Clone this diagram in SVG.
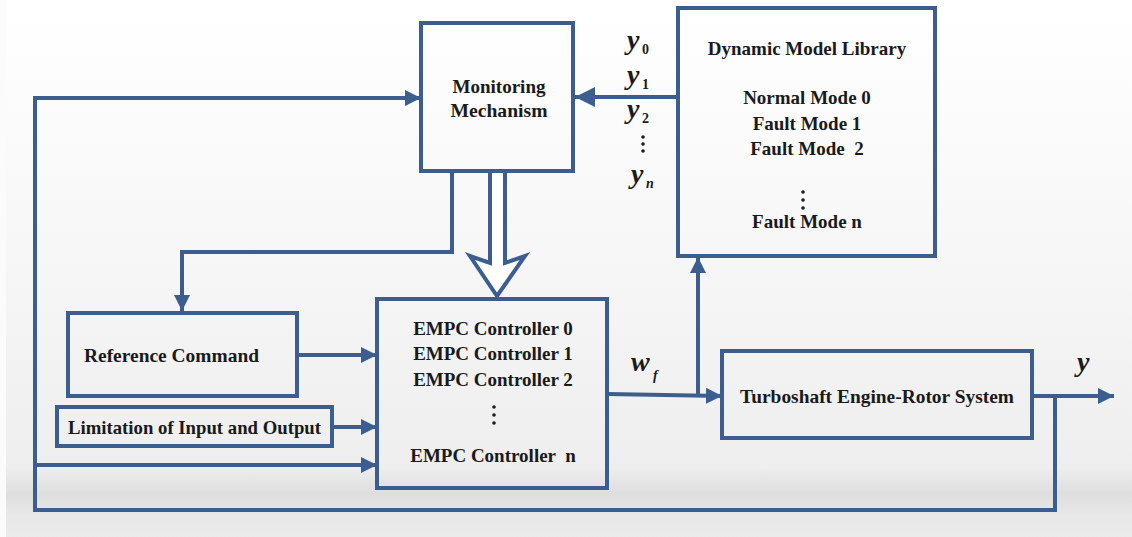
<svg xmlns="http://www.w3.org/2000/svg" width="1132" height="537" viewBox="0 0 1132 537">
<defs>
<linearGradient id="bg" x1="0" y1="0" x2="0" y2="1">
<stop offset="0" stop-color="#ffffff"/>
<stop offset="0.5" stop-color="#f6f6f6"/>
<stop offset="0.87" stop-color="#eeeeee"/>
<stop offset="0.92" stop-color="#dedede"/>
<stop offset="0.96" stop-color="#e8e8e8"/>
<stop offset="1" stop-color="#ebebeb"/>
</linearGradient>
<marker id="ah" markerUnits="userSpaceOnUse" markerWidth="16" markerHeight="16" refX="16" refY="8" orient="auto">
<path d="M0,0 L16,8 L0,16 Z" fill="#3b5e8e"/>
</marker>
<marker id="ahL" markerUnits="userSpaceOnUse" markerWidth="20" markerHeight="20" refX="20" refY="10" orient="auto">
<path d="M0,0 L20,10 L0,20 Z" fill="#3b5e8e"/>
</marker>
</defs>
<style>
.box{fill:none;stroke:#3b5e8e;stroke-width:4}
.ln{fill:none;stroke:#3b5e8e;stroke-width:4}
.t{font-family:"Liberation Serif","Times New Roman",serif;font-weight:bold;font-size:19px;fill:#1a1a1a}
.m{text-anchor:middle}
.v{font-family:"Liberation Serif","Times New Roman",serif;font-weight:bold;font-style:italic;font-size:28px;fill:#1a1a1a}
.s{font-family:"Liberation Serif","Times New Roman",serif;font-weight:bold;font-size:14px;fill:#1a1a1a}
</style>
<rect x="0" y="0" width="1132" height="537" fill="url(#bg)"/>
<rect x="0" y="0" width="6" height="537" fill="#fbfbfb"/>

<g id="connectors">
<line class="ln" x1="678" y1="97" x2="575" y2="97" marker-end="url(#ahL)"/>
<path class="ln" d="M1055,396 V510 H35 V98 H421" marker-end="url(#ah)"/>
<line class="ln" x1="35" y1="465" x2="377" y2="465" marker-end="url(#ah)"/>
<path class="ln" d="M452,171 V252 H182 V311" marker-end="url(#ah)"/>
<polygon points="490,171 490,263 470,256 497,296 525,256 505,263 505,171" fill="#ffffff" stroke="#3b5e8e" stroke-width="4" stroke-linejoin="miter"/>
<line class="ln" x1="297" y1="355" x2="377" y2="355" marker-end="url(#ah)"/>
<line class="ln" x1="332" y1="427" x2="377" y2="427" marker-end="url(#ah)"/>
<line class="ln" x1="607" y1="394" x2="722" y2="396" marker-end="url(#ah)"/>
<line class="ln" x1="698" y1="395" x2="698" y2="257" marker-end="url(#ah)"/>
<line class="ln" x1="1032" y1="396" x2="1114" y2="396" marker-end="url(#ah)"/>
</g>

<g id="monitoring">
<rect class="box" x="421" y="23" width="152" height="148"/>
<text class="t m" x="499" y="93" textLength="93" lengthAdjust="spacingAndGlyphs">Monitoring</text>
<text class="t m" x="499" y="117" textLength="97" lengthAdjust="spacingAndGlyphs">Mechanism</text>
</g>

<g id="signals-y">
<text class="v" x="627" y="49">y</text><text class="s" x="642" y="54">0</text>
<text class="v" x="627" y="84">y</text><text class="s" x="642" y="89">1</text>
<text class="v" x="627" y="118">y</text><text class="s" x="642" y="123">2</text>
<circle cx="643" cy="137" r="1.8" fill="#1a1a1a"/>
<circle cx="643" cy="144" r="1.8" fill="#1a1a1a"/>
<circle cx="643" cy="151" r="1.8" fill="#1a1a1a"/>
<text class="v" x="631" y="183">y</text><text class="s" x="646" y="188" font-style="italic">n</text>
</g>

<g id="dml">
<rect class="box" x="678" y="8" width="257" height="248"/>
<text class="t m" x="807" y="55">Dynamic Model Library</text>
<text class="t m" x="807" y="104">Normal Mode 0</text>
<text class="t m" x="807" y="130">Fault Mode 1</text>
<text class="t m" x="807" y="155" xml:space="preserve">Fault Mode  2</text>
<circle cx="803" cy="192" r="1.8" fill="#1a1a1a"/>
<circle cx="803" cy="200" r="1.8" fill="#1a1a1a"/>
<circle cx="803" cy="208" r="1.8" fill="#1a1a1a"/>
<text class="t m" x="807" y="228">Fault Mode n</text>
</g>

<g id="reference">
<rect class="box" x="68" y="313" width="229" height="83"/>
<text class="t" x="84" y="362" textLength="175" lengthAdjust="spacingAndGlyphs">Reference Command</text>
</g>

<g id="limitation">
<rect class="box" x="57" y="407" width="275" height="39"/>
<text class="t" x="68" y="434" textLength="253" lengthAdjust="spacingAndGlyphs">Limitation of Input and Output</text>
</g>

<g id="empc">
<rect class="box" x="377" y="299" width="230" height="189"/>
<text class="t m" x="493" y="335">EMPC Controller 0</text>
<text class="t m" x="493" y="360">EMPC Controller 1</text>
<text class="t m" x="493" y="386">EMPC Controller 2</text>
<circle cx="494" cy="407" r="1.8" fill="#1a1a1a"/>
<circle cx="494" cy="415" r="1.8" fill="#1a1a1a"/>
<circle cx="494" cy="423" r="1.8" fill="#1a1a1a"/>
<text class="t m" x="493" y="462" xml:space="preserve">EMPC Controller  n</text>
</g>

<g id="wf-label">
<text class="v" x="631" y="371">w</text><text class="s" x="653" y="380" font-style="italic" font-size="15">f</text>
</g>

<g id="turboshaft">
<rect class="box" x="722" y="351" width="310" height="87"/>
<text class="t m" x="877" y="403" textLength="274" lengthAdjust="spacingAndGlyphs">Turboshaft Engine-Rotor System</text>
</g>

<g id="y-label">
<text class="v" x="1077" y="371">y</text>
</g>
</svg>
